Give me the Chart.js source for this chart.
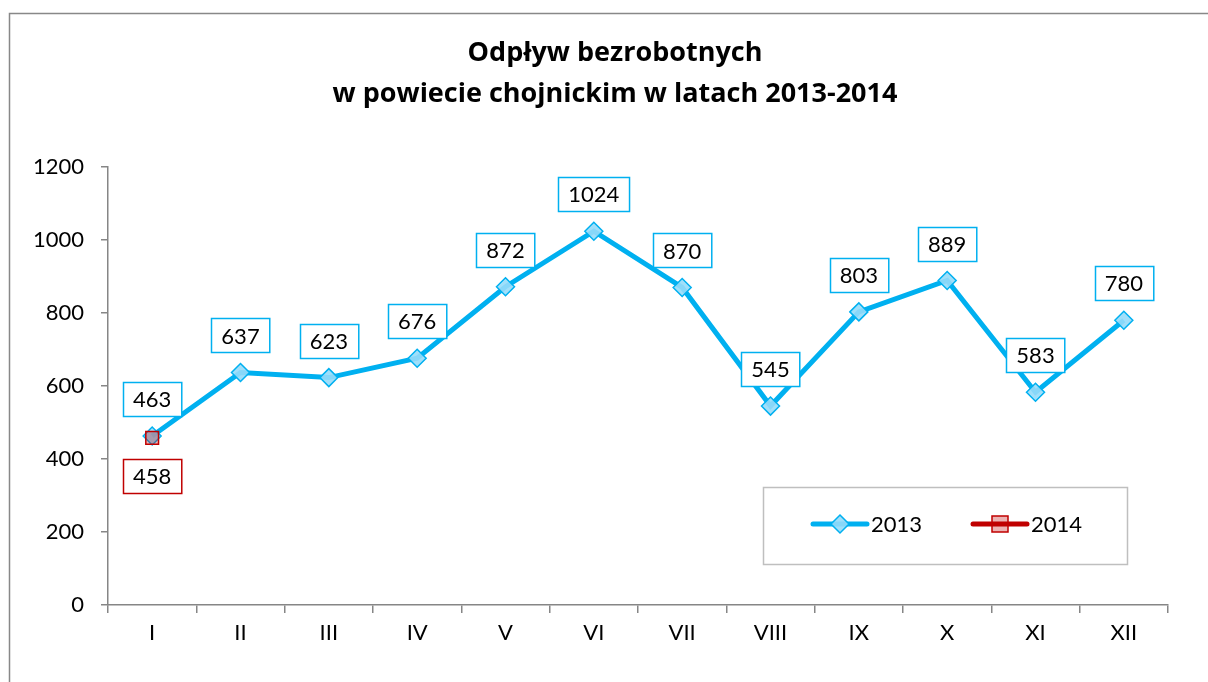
<!DOCTYPE html>
<html>
<head>
    <meta charset="utf-8">
    <title>Odpływ bezrobotnych</title>
    <script src="https://cdn.jsdelivr.net/npm/chart.js@4/dist/chart.umd.min.js"></script>
    <style>
        html, body { margin: 0; padding: 0; background: #fff; }
        #wrap { width: 1208px; height: 682px; }
    </style>
</head>
<body>
    <div id="wrap"><canvas id="myChart"></canvas></div>

    <script>
        const months = ['I', 'II', 'III', 'IV', 'V', 'VI', 'VII', 'VIII', 'IX', 'X', 'XI', 'XII'];
        const data2013 = [463, 637, 623, 676, 872, 1024, 870, 545, 803, 889, 583, 780];
        const data2014 = [458, null, null, null, null, null, null, null, null, null, null, null];
        const yTicks = [0, 200, 400, 600, 800, 1000, 1200];
        const titleLines = ['Odpływ bezrobotnych', 'w powiecie chojnickim w latach 2013-2014'];

        const FONT = 'Lato, Calibri, Carlito, sans-serif';
        const TITLE_FONT = '"Open Sans", "Noto Sans", sans-serif';
        const BLUE = '#00B0F0';
        const RED = '#C00000';

        // frame + title
        const framePlugin = {
            id: 'frame',
            beforeDraw(chart) {
                const c = chart.ctx;
                c.save();
                c.fillStyle = '#fff';
                c.fillRect(0, 0, chart.width, chart.height);
                c.strokeStyle = '#888888';
                c.lineWidth = 1.5;
                c.strokeRect(9.5, 13.5, chart.width + 20, chart.height + 20);
                c.fillStyle = '#000';
                c.font = 'bold 27px ' + TITLE_FONT;
                c.textAlign = 'center';
                c.textBaseline = 'middle';
                titleLines.forEach((t, i) => c.fillText(t, 615, 53 + i * 41));
                c.restore();
            }
        };

        // boxed value labels
        const boxLabels = {
            id: 'boxLabels',
            afterDatasetsDraw(chart) {
                const c = chart.ctx;
                c.save();
                c.font = '22px ' + FONT;
                c.textAlign = 'center';
                c.textBaseline = 'middle';
                chart.data.datasets.forEach((ds, di) => {
                    const meta = chart.getDatasetMeta(di);
                    meta.data.forEach((pt, i) => {
                        const v = ds.data[i];
                        if (v === null) return;
                        const txt = String(v);
                        const w = c.measureText(txt).width + 20;
                        const h = 34;
                        const cy = ds.labelBelow ? pt.y + 38 : pt.y - 37;
                        const x0 = Math.round(pt.x - w / 2) + 0.5;
                        const y0 = Math.round(cy - h / 2) + 0.5;
                        c.fillStyle = '#fff';
                        c.fillRect(x0, y0, w, h);
                        c.strokeStyle = ds.borderColor;
                        c.lineWidth = 1.5;
                        c.strokeRect(x0, y0, w, h);
                        c.fillStyle = '#000';
                        c.fillText(txt, pt.x, cy + 1);
                    });
                });
                c.restore();
            }
        };

        // legend box
        const legendBox = {
            id: 'legendBox',
            afterDraw(chart) {
                const c = chart.ctx;
                c.save();
                c.strokeStyle = '#BFBFBF';
                c.lineWidth = 1.5;
                c.strokeRect(763.5, 487.5, 364, 77);
                const items = [
                    { ds: chart.data.datasets[0], x: 813 },
                    { ds: chart.data.datasets[1], x: 973 }
                ];
                const y = 524;
                items.forEach(it => {
                    const ds = it.ds;
                    c.strokeStyle = ds.borderColor;
                    c.lineWidth = 5;
                    c.lineCap = 'round';
                    c.beginPath();
                    c.moveTo(it.x, y);
                    c.lineTo(it.x + 54, y);
                    c.stroke();
                    const mx = it.x + 27;
                    c.fillStyle = ds.pointBackgroundColor;
                    c.strokeStyle = ds.pointBorderColor;
                    c.lineWidth = 1.5;
                    c.beginPath();
                    if (ds.pointStyle === 'rectRot') {
                        c.moveTo(mx, y - 9); c.lineTo(mx + 9, y); c.lineTo(mx, y + 9); c.lineTo(mx - 9, y); c.closePath();
                    } else {
                        c.rect(mx - 8, y - 8, 16, 16);
                    }
                    c.fill();
                    c.stroke();
                    c.fillStyle = '#000';
                    c.font = '22px ' + FONT;
                    c.textAlign = 'left';
                    c.textBaseline = 'middle';
                    c.fillText(ds.label, it.x + 58, y + 1);
                });
                c.restore();
            }
        };

        const ctx = document.getElementById('myChart').getContext('2d');
        new Chart(ctx, {
            type: 'line',
            data: {
                labels: months,
                datasets: [
                    {
                        label: '2013',
                        data: data2013,
                        borderColor: BLUE,
                        backgroundColor: BLUE,
                        borderWidth: 5,
                        pointStyle: 'rectRot',
                        pointRadius: 9,
                        pointBackgroundColor: 'rgba(150, 220, 250, 0.9)',
                        pointBorderColor: BLUE,
                        pointBorderWidth: 1.5,
                        tension: 0,
                        order: 1
                    },
                    {
                        label: '2014',
                        data: data2014,
                        borderColor: RED,
                        backgroundColor: RED,
                        borderWidth: 5,
                        pointStyle: 'rect',
                        pointRadius: 9,
                        pointBackgroundColor: 'rgba(192, 0, 0, 0.3)',
                        pointBorderColor: RED,
                        pointBorderWidth: 1.5,
                        tension: 0,
                        labelBelow: true,
                        order: 0
                    }
                ]
            },
            options: {
                responsive: true,
                maintainAspectRatio: false,
                animation: false,
                layout: { padding: { left: 9, top: 167, right: 40, bottom: 0 } },
                plugins: {
                    legend: { display: false },
                    title: { display: false },
                    tooltip: { enabled: false }
                },
                scales: {
                    x: {
                        offset: true,
                        afterFit: s => { s.height = 77; },
                        grid: {
                            offset: true,
                            drawOnChartArea: false,
                            drawTicks: true,
                            tickLength: 8,
                            color: '#868686',
                            lineWidth: 1.5
                        },
                        border: { color: '#868686', width: 1.5 },
                        ticks: {
                            color: '#000',
                            font: { family: FONT, size: 22 },
                            padding: 7
                        }
                    },
                    y: {
                        min: 0,
                        max: 1200,
                        afterFit: s => { s.width = 99; },
                        afterBuildTicks: s => { s.ticks = yTicks.map(v => ({ value: v })); },
                        grid: {
                            drawOnChartArea: false,
                            drawTicks: true,
                            tickLength: 7,
                            color: '#868686',
                            lineWidth: 1.5
                        },
                        border: { color: '#868686', width: 1.5 },
                        ticks: {
                            color: '#000',
                            font: { family: FONT, size: 22 },
                            padding: 17,
                            callback: v => String(v)
                        }
                    }
                }
            },
            plugins: [framePlugin, boxLabels, legendBox]
        });
    </script>
</body>
</html>
